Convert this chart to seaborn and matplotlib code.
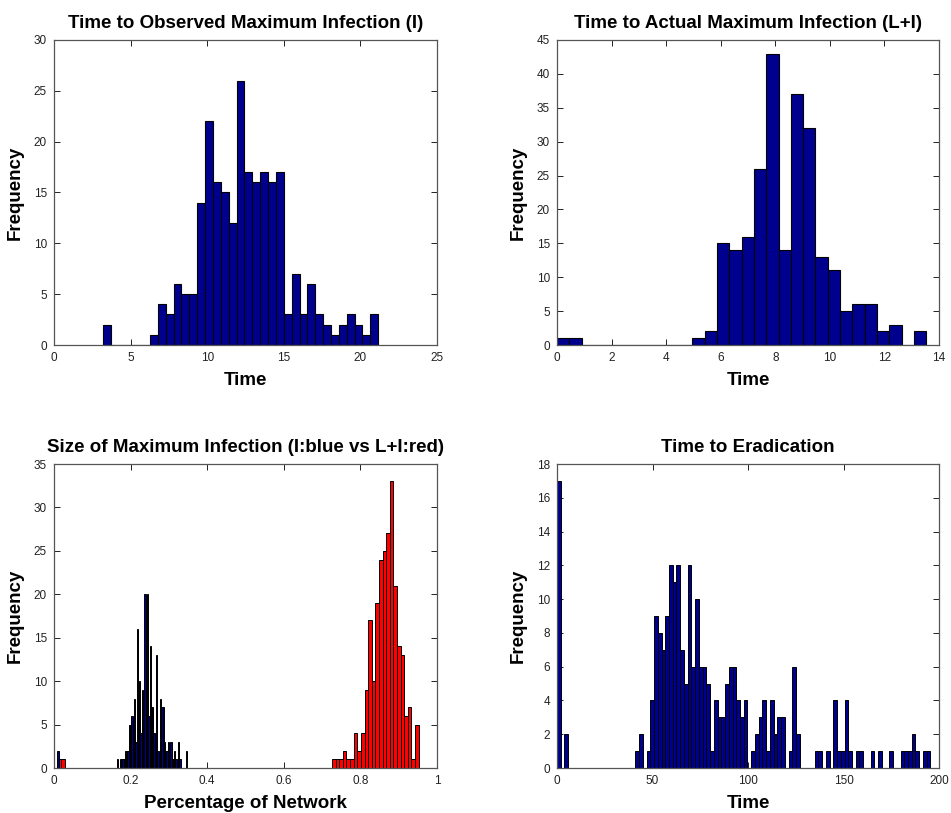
import numpy as np
import pandas as pd
import matplotlib
matplotlib.use("Agg")
import matplotlib.pyplot as plt
import seaborn as sns

# ---------------- data ----------------
# Panel 1: time to observed maximum infection (I)
obs_counts = [2, 0, 0, 0, 0, 0, 1, 4, 3, 6, 5, 5, 14, 22, 16, 15, 12, 26, 17, 16,
              17, 16, 17, 3, 7, 3, 6, 3, 2, 1, 2, 3, 2, 1, 3]
obs_min, obs_width = 3.18, 0.5138

# Panel 2: time to actual maximum infection (L+I)
act_counts = [1, 1, 0, 0, 0, 0, 0, 0, 0, 0, 0, 1, 2, 15, 14, 16, 26, 43, 14, 37,
              32, 13, 11, 5, 6, 6, 2, 3, 0, 2]
act_min, act_width = 0.0, 0.451

# Panel 3: size of maximum infection, I (blue) and L+I (red)
size_i_counts = [2] + [0] * 45 + [
    1, 0, 1, 1, 1, 1, 2, 2, 2, 5, 5, 6, 5, 8, 3, 16, 7, 10, 4, 9,
    5, 20, 10, 20, 6, 14, 7, 7, 4, 2, 13, 2, 1, 8, 7, 7, 3, 2, 2, 3,
    1, 3, 1, 1, 2, 1, 1, 3, 1, 0, 0, 0, 0, 2]
size_i_min, size_i_width = 0.0087, 0.00339
size_li_counts = [1, 1] + [0] * 74 + [1, 1, 1, 2, 1, 1, 4, 2, 4, 9, 17, 10, 19, 24,
                  25, 27, 33, 21, 14, 13, 6, 7, 1, 5]
size_li_min, size_li_width = 0.0101, 0.00942

# Panel 4: time to eradication
erad_counts = [17, 0, 2, 0, 0, 0, 0, 0, 0, 0, 0, 0, 0, 0, 0, 0, 0, 0, 0, 0,
               0, 1, 2, 0, 1, 4, 9, 8, 7, 9, 12, 11, 12, 7, 5, 12, 6, 10, 6, 6,
               5, 1, 4, 3, 3, 5, 6, 6, 4, 3, 4, 0, 1, 2, 3, 4, 1, 4, 2, 3,
               3, 0, 1, 6, 2, 0, 0, 0, 0, 1, 1, 0, 1, 0, 4, 1, 1, 4, 1, 0,
               1, 1, 0, 0, 1, 0, 1, 0, 0, 1, 0, 0, 1, 1, 1, 2, 1, 0, 1, 1]
erad_min, erad_width = 0.0, 1.955

titles = ["Time to Observed Maximum Infection (I)",
          "Time to Actual Maximum Infection (L+I)",
          "Size of Maximum Infection (I:blue vs L+I:red)",
          "Time to Eradication"]
xlabels = ["Time", "Time", "Percentage of Network", "Time"]
ylabel = "Frequency"

# ---------------- style ----------------
sns.set_theme(style="white")
plt.rcParams["font.family"] = ["Liberation Sans", "DejaVu Sans"]
plt.rcParams.update({
    "text.color": "black", "axes.labelcolor": "black",
    "xtick.direction": "in", "ytick.direction": "in",
    "xtick.top": True, "ytick.right": True,
    "xtick.bottom": True, "ytick.left": True,
    "xtick.major.size": 4, "ytick.major.size": 4,
    "xtick.major.width": 0.7, "ytick.major.width": 0.7,
    "xtick.color": "#222222", "ytick.color": "#222222",
    "xtick.labelsize": 8.5, "ytick.labelsize": 8.5,
    "axes.edgecolor": "#555555", "axes.linewidth": 0.9,
    "xtick.major.pad": 5, "ytick.major.pad": 5,
})

NAVY = "#00008F"
RED = "#FF0000"

W, H = 951, 813
fig = plt.figure(figsize=(W / 100, H / 100), dpi=100)


def add_ax(l, t, r, b):
    return fig.add_axes([l / W, 1 - b / H, (r - l) / W, (b - t) / H])


def draw_hist(ax, counts, start, width, color, lw=0.8):
    n = len(counts)
    centers = start + width * (np.arange(n) + 0.5)
    df = pd.DataFrame({"x": centers, "w": np.asarray(counts, dtype=float)})
    sns.histplot(data=df, x="x", weights="w", bins=n,
                 binrange=(start, start + width * n), color=color,
                 edgecolor="black", linewidth=lw, alpha=1, ax=ax)


ax1 = add_ax(54, 40, 437, 345)
ax2 = add_ax(557, 40, 939, 345)
ax3 = add_ax(54, 464, 437, 768)
ax4 = add_ax(557, 464, 939, 768)

draw_hist(ax1, obs_counts, obs_min, obs_width, NAVY)
ax1.set_xlim(0, 25); ax1.set_ylim(0, 30)
ax1.set_xticks(np.arange(0, 26, 5)); ax1.set_yticks(np.arange(0, 31, 5))

draw_hist(ax2, act_counts, act_min, act_width, NAVY)
ax2.set_xlim(0, 14); ax2.set_ylim(0, 45)
ax2.set_xticks(np.arange(0, 15, 2)); ax2.set_yticks(np.arange(0, 46, 5))

draw_hist(ax3, size_li_counts, size_li_min, size_li_width, RED, lw=0.7)
draw_hist(ax3, size_i_counts, size_i_min, size_i_width, NAVY, lw=0.7)
ax3.set_xlim(0, 1); ax3.set_ylim(0, 35)
ax3.set_xticks(np.arange(0, 1.01, 0.2)); ax3.set_yticks(np.arange(0, 36, 5))
ax3.set_xticklabels(["0", "0.2", "0.4", "0.6", "0.8", "1"])

draw_hist(ax4, erad_counts, erad_min, erad_width, NAVY, lw=0.7)
ax4.set_xlim(0, 200); ax4.set_ylim(0, 18)
ax4.set_xticks(np.arange(0, 201, 50)); ax4.set_yticks(np.arange(0, 19, 2))

for ax, t, xl in zip([ax1, ax2, ax3, ax4], titles, xlabels):
    ax.set_title(t, fontsize=13.5, fontweight="bold", pad=9)
    ax.set_xlabel(xl, fontsize=13.5, fontweight="bold", labelpad=6)
    ax.set_ylabel(ylabel, fontsize=13.5, fontweight="bold", labelpad=7)
    for s in ax.spines.values():
        s.set_visible(True)

fig.savefig("out.png", dpi=100, facecolor="white")
